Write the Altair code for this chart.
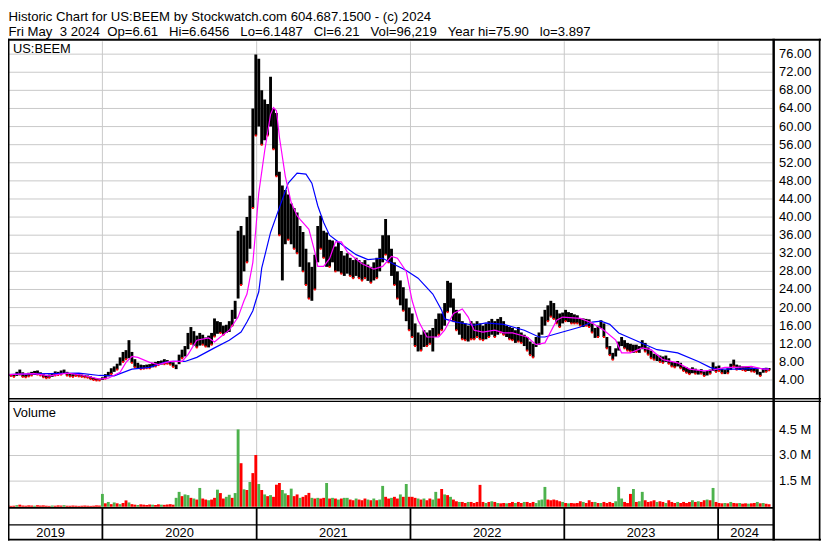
import altair as alt
import pandas as pd

# ------------------------------------------------------------------ data
first_week = "2019-05-08"   # one bar per week from here on

week_low = [
    4.9, 4.9, 4.8, 4.9, 4.7, 4.9, 5.2, 4.7, 4.6, 4.8,
    5.0, 5.1, 5.2, 5.0, 4.6, 4.4, 4.5, 4.7, 5.0, 5.1,
    5.2, 5.4, 5.0, 4.8, 4.7, 4.9, 4.8, 4.7, 4.6, 4.5,
    4.2, 4.0, 3.9, 3.9, 4.0, 4.3, 4.8, 5.3, 5.8, 6.3,
    7.2, 8.0, 8.6, 8.8, 7.8, 6.8, 6.5, 6.4, 6.5, 6.6,
    6.6, 6.8, 7.0, 7.3, 7.4, 7.5, 7.6, 7.4, 6.9, 6.4,
    7.5, 8.8, 9.2, 10.8, 12.0, 11.6, 11.2, 11.6, 11.8, 11.4,
    11.2, 11.8, 13.6, 14.2, 14.4, 14.0, 14.4, 14.6, 16.0, 17.5,
    22.0, 25.0, 28.0, 30.0, 33.0, 42.0, 58.0, 60.0, 56.0, 57.0,
    58.0, 60.0, 55.0, 49.0, 36.0, 26.0, 34.0, 35.0, 34.0, 33.0,
    32.0, 29.0, 28.0, 25.0, 22.0, 21.5, 24.0, 30.0, 33.0, 31.0,
    29.0, 29.0, 30.0, 28.0, 28.0, 27.5, 27.0, 27.5, 27.0, 26.5,
    27.0, 26.5, 26.0, 26.5, 25.9, 25.5, 26.0, 26.5, 28.0, 30.0,
    31.7, 30.0, 27.0, 25.0, 22.0, 20.5, 19.3, 17.0, 15.0, 13.5,
    11.5, 10.3, 10.5, 11.3, 11.5, 12.0, 10.3, 13.5, 14.0, 15.0,
    16.0, 19.0, 20.0, 17.0, 15.0, 14.0, 13.0, 12.8, 12.5, 13.0,
    13.0, 13.5, 13.0, 12.8, 13.0, 13.5, 14.0, 13.5, 14.0, 14.5,
    14.0, 13.5, 13.0, 12.8, 12.2, 12.5, 12.2, 11.5, 10.5, 9.5,
    9.0, 11.3, 11.8, 14.0, 16.0, 17.0, 18.0, 17.5, 16.5, 15.7,
    16.5, 17.0, 16.8, 16.5, 16.5, 16.5, 16.0, 15.7, 16.0, 15.7,
    14.5, 13.3, 13.5, 15.5, 13.5, 11.0, 9.5, 8.5, 9.2, 10.5,
    11.5, 11.0, 10.5, 10.3, 10.0, 10.2, 10.0, 10.8, 10.3, 9.6,
    8.8, 8.5, 8.2, 8.0, 7.8, 8.0, 7.6, 7.0, 6.8, 7.0,
    6.6, 6.0, 5.6, 5.3, 5.5, 5.4, 5.2, 5.4, 4.9, 5.0,
    5.4, 6.0, 5.8, 6.0, 5.5, 5.3, 5.5, 6.2, 7.0, 6.3,
    6.2, 6.2, 6.0, 6.0, 5.9, 5.8, 5.2, 4.9, 5.6, 5.8,
    6.15,
]
week_high = [
    5.4, 5.4, 5.3, 5.3, 5.2, 5.8, 6.3, 5.7, 5.2, 5.6,
    5.8, 6.0, 6.1, 5.7, 5.3, 5.0, 5.2, 5.5, 5.9, 5.8,
    6.1, 6.3, 5.8, 5.4, 5.3, 5.5, 5.3, 5.2, 5.1, 5.0,
    4.8, 4.5, 4.4, 4.3, 4.6, 5.3, 5.8, 6.6, 7.0, 7.6,
    9.0, 10.2, 10.6, 12.8, 10.2, 8.6, 7.8, 7.4, 7.3, 7.4,
    7.5, 7.8, 8.0, 8.2, 8.3, 8.6, 8.4, 8.2, 7.9, 7.4,
    9.6, 10.7, 11.5, 14.4, 15.7, 14.8, 13.8, 14.4, 14.0, 13.4,
    13.8, 14.4, 17.6, 17.0, 16.8, 16.0, 16.2, 17.0, 19.5, 21.5,
    37.0, 38.0, 36.0, 40.0, 44.7, 64.0, 75.9, 75.0, 68.0, 66.0,
    65.0, 71.0, 64.0, 63.0, 50.0, 47.0, 46.0, 45.0, 43.0, 42.0,
    41.0, 38.0, 36.7, 33.0, 30.0, 29.0, 31.7, 38.0, 40.3, 37.0,
    36.6, 35.0, 34.8, 33.5, 34.5, 32.5, 31.5, 32.0, 31.0, 30.5,
    31.0, 30.5, 30.0, 30.5, 29.5, 29.0, 30.0, 31.0, 33.0, 36.0,
    39.6, 36.0, 33.0, 30.0, 28.0, 26.0, 24.5, 22.0, 20.0, 18.7,
    16.5, 14.5, 14.0, 15.0, 14.5, 15.0, 15.5, 17.5, 18.7, 18.7,
    21.0, 25.9, 25.5, 22.0, 19.5, 18.7, 17.0, 16.5, 16.0, 17.0,
    16.5, 17.0, 16.5, 16.0, 16.5, 17.0, 17.5, 17.0, 17.5, 17.9,
    17.0, 16.0, 15.7, 15.5, 15.0, 15.7, 14.5, 14.0, 13.5, 12.5,
    12.0, 13.5, 14.5, 18.0, 19.5, 20.5, 21.5, 21.0, 19.5, 18.7,
    18.9, 19.5, 19.0, 18.8, 18.5, 18.3, 17.6, 17.6, 17.5, 17.4,
    16.5, 15.5, 16.0, 17.2, 16.5, 13.5, 11.5, 10.0, 11.0, 12.5,
    13.5, 12.8, 12.2, 12.0, 11.8, 11.8, 11.5, 12.8, 12.2, 11.2,
    10.5, 9.8, 9.6, 9.4, 9.2, 9.4, 8.8, 8.0, 8.0, 8.2,
    7.8, 7.0, 6.8, 6.5, 6.8, 6.5, 6.2, 6.4, 5.9, 6.0,
    6.3, 7.9, 7.0, 7.2, 6.5, 6.2, 6.6, 7.6, 8.5, 7.4,
    7.2, 7.0, 7.0, 6.9, 6.8, 6.7, 6.4, 5.8, 6.6, 6.7,
    6.65,
]
volume_millions = [
    0.08, 0.06, 0.07, 0.05, 0.06, 0.09, 0.12, 0.07, 0.06, 0.08,
    0.07, 0.06, 0.09, 0.07, 0.08, 0.06, 0.05, 0.07, 0.06, 0.08,
    0.07, 0.09, 0.06, 0.05, 0.07, 0.06, 0.05, 0.06, 0.07, 0.06,
    0.05, 0.06, 0.08, 0.07, 0.75, 0.20, 0.28, 0.15, 0.25, 0.20,
    0.15, 0.22, 0.37, 0.25, 0.15, 0.12, 0.10, 0.14, 0.12, 0.10,
    0.13, 0.12, 0.10, 0.14, 0.12, 0.11, 0.13, 0.15, 0.12, 0.52,
    0.87, 0.62, 0.72, 0.68, 0.52, 0.48, 0.42, 1.10, 0.48, 0.42,
    0.38, 0.42, 0.52, 1.00, 0.80, 0.48, 0.58, 0.70, 0.52, 0.80,
    4.53, 2.55, 1.02, 0.98, 1.45, 1.97, 3.03, 1.33, 0.98, 0.72,
    0.62, 0.68, 0.58, 1.29, 1.39, 0.98, 0.78, 0.68, 1.06, 0.62,
    0.72, 0.52, 0.58, 0.68, 0.81, 0.52, 0.48, 0.52, 0.48, 0.52,
    1.39, 0.48, 0.52, 0.48, 0.42, 0.48, 0.52, 0.52, 0.42, 0.38,
    0.48, 0.42, 0.38, 0.48, 0.42, 0.38, 0.48, 0.38, 0.42, 1.22,
    0.58, 0.48, 0.52, 0.58, 0.48, 0.72, 0.58, 1.33, 0.58, 0.58,
    0.52, 0.48, 0.42, 0.48, 0.38, 0.48, 0.42, 0.87, 0.48, 1.04,
    0.72, 0.68, 0.58, 0.42, 0.32, 0.28, 0.28, 0.22, 0.28, 0.28,
    0.22, 0.28, 1.28, 0.28, 0.22, 0.28, 0.32, 0.28, 0.22, 0.20,
    0.22, 0.20, 0.22, 0.28, 0.22, 0.28, 0.22, 0.28, 0.28, 0.22,
    0.28, 0.22, 0.38, 0.42, 1.16, 0.42, 0.38, 0.42, 0.38, 0.32,
    0.28, 0.22, 0.20, 0.22, 0.20, 0.22, 0.32, 0.28, 0.22, 0.38,
    0.28, 0.28, 0.22, 0.22, 0.28, 0.22, 0.28, 0.22, 0.32, 1.16,
    0.48, 0.28, 0.22, 0.75, 1.04, 0.28, 0.32, 0.87, 0.38, 0.28,
    0.32, 0.38, 0.28, 0.32, 0.28, 0.22, 0.38, 0.28, 0.22, 0.28,
    0.22, 0.28, 0.22, 0.28, 0.38, 0.28, 0.32, 0.28, 0.38, 0.42,
    0.38, 1.10, 0.28, 0.22, 0.20, 0.22, 0.20, 0.28, 0.22, 0.20,
    0.22, 0.18, 0.20, 0.18, 0.20, 0.22, 0.28, 0.20, 0.22, 0.18,
    0.15,
]
# G = up week (green volume), R = down week (red volume, red close mark)
week_direction = (
    "RRRRRGRRRR" "RGRRRRRGRR" "RGRRRRRRRR" "RRRR" "GRGRGR"
    "GRRGRRGRRR" "RGRRGRRRRG" "GRGGRGRGRR" "GRRGRRGGRG" "GRGRGRRGRG"
    "RGRRRGGRGR" "RGRRRGRGRR" "GRGRGRGGRR" "GRRRGRGRGG" "RRGRRGRGRR"
    "RGRGRRGGRR" "GRGRRGRRGR" "RRRRGRGRGR" "RGRRGRRGRR" "RGGGGRRRRR"
    "GRGRRRRGRR" "RGRGRRRRGG" "GRRRGRGGRR" "RRGRRGRRRG" "RRRRGRGRRG"
    "RGRRRGRGRR" "GRRGRRGRGR" "R"
)

fast_ma_week = [0, 6, 11, 16, 22, 27, 33, 36, 40, 42, 44, 46, 50, 53, 57, 61, 63, 66, 70, 72,
                74, 77, 80, 82, 83, 85, 86, 87, 89, 91, 92, 93, 94, 96, 98, 100, 101, 104, 106, 107,
                109, 111, 113, 115, 117, 122, 126, 129, 132, 134, 137, 139, 141, 144, 148, 150, 153,
                156, 158, 160, 163, 167, 170, 173, 178, 181, 184, 188, 190, 196, 200, 204, 208, 210,
                213, 217, 220, 224, 229, 233, 238, 241, 245, 249, 254, 258, 260]
fast_ma_value = [5.1, 5.3, 5.4, 4.9, 5.5, 5.1, 4.2, 4.4, 5.7, 7.9, 9.2, 9.0, 7.9, 7.4, 8.1, 8.1, 9.6,
                 12.8, 13.3, 12.4, 13.5, 15.0, 17.9, 21.5, 23.0, 30.0, 37.3, 45.3, 54.6, 62.7, 64.2,
                 63.5, 57.7, 49.0, 43.2, 40.3, 39.5, 37.3, 32.3, 29.1, 29.1, 30.8, 34.5, 34.5, 32.3,
                 29.7, 28.5, 29.1, 31.3, 30.9, 28.0, 21.5, 17.2, 13.5, 13.5, 15.0, 18.7, 19.7, 17.9,
                 15.0, 14.6, 15.0, 14.4, 14.4, 13.5, 11.8, 12.2, 17.2, 17.9, 17.6, 16.6, 15.0, 12.8,
                 10.0, 10.0, 11.1, 10.7, 8.5, 7.8, 6.4, 6.0, 6.2, 6.8, 6.8, 7.0, 6.4, 6.4]
slow_ma_week = [0, 6, 16, 26, 33, 38, 44, 50, 55, 58, 62, 66, 72, 77, 81, 83, 85, 86, 87, 88, 91,
                95, 97, 100, 103, 105, 107, 109, 111, 114, 120, 124, 129, 133, 137, 141, 146, 149,
                150, 154, 160, 164, 170, 177, 182, 184, 190, 196, 200, 203, 206, 209, 216, 222, 229,
                236, 240, 242, 250, 256, 260]
slow_ma_value = [5.1, 5.3, 5.4, 5.5, 5.0, 4.9, 6.4, 6.8, 7.9, 8.1, 8.1, 9.0, 11.1, 12.8, 14.6, 16.8,
                 19.3, 21.5, 23.5, 28.7, 36.6, 43.9, 47.5, 49.7, 49.5, 47.5, 42.5, 38.8, 36.0, 34.5,
                 31.7, 30.6, 30.9, 29.5, 28.2, 26.5, 23.0, 19.4, 17.5, 16.8, 16.1, 16.6, 16.3, 15.0,
                 13.5, 13.5, 14.6, 15.7, 16.8, 17.0, 16.3, 14.4, 12.4, 10.7, 10.0, 8.1, 6.8, 6.4,
                 6.4, 6.6, 6.4]

price_ticks = [4, 8, 12, 16, 20, 24, 28, 32, 36, 40, 44, 48, 52, 56, 60, 64, 68, 72, 76]
volume_ticks_millions = [1.5, 3.0, 4.5]
year_start_dates = ["2020-01-01", "2021-01-01", "2022-01-01", "2023-01-01", "2024-01-01"]
year_names = ["2019", "2020", "2021", "2022", "2023", "2024"]
year_label_dates = ["2019-08-31", "2020-07-02", "2021-07-02", "2022-07-02", "2023-07-02", "2024-03-04"]

header_line1 = "Historic Chart for US:BEEM by Stockwatch.com 604.687.1500 - (c) 2024"
header_line2 = ("Fri May  3 2024  Op=6.61   Hi=6.6456   Lo=6.1487   Cl=6.21   "
                "Vol=96,219   Year hi=75.90   lo=3.897")
symbol_label = "US:BEEM"
volume_label = "Volume"

# ------------------------------------------------------------------ build
n = len(week_low)
assert len(week_high) == n and len(volume_millions) == n and len(week_direction) == n
assert len(fast_ma_week) == len(fast_ma_value) and len(slow_ma_week) == len(slow_ma_value)

start = pd.Timestamp(first_week)
bars = pd.DataFrame({
    "date": pd.date_range(start, periods=n, freq="7D"),
    "lo": week_low,
    "hi": week_high,
    "vol": [v * 1e6 for v in volume_millions],
    "dir": list(week_direction),
})
fast = pd.DataFrame({"date": [start + pd.Timedelta(days=7 * w) for w in fast_ma_week], "val": fast_ma_value})
slow = pd.DataFrame({"date": [start + pd.Timedelta(days=7 * w) for w in slow_ma_week], "val": slow_ma_value})
years = pd.DataFrame({"date": pd.to_datetime(year_start_dates)})
year_labels = pd.DataFrame({"date": pd.to_datetime(year_label_dates), "name": year_names})
pticks = pd.DataFrame({"tick": price_ticks, "label": [f"{t:.2f}" for t in price_ticks]})
vticks = pd.DataFrame({"tick": [t * 1e6 for t in volume_ticks_millions],
                       "label": [f"{t:.1f} M" for t in volume_ticks_millions]})

W, H = 772, 535
FONT = "Liberation Sans"
GRID = "#c8c8c8"
GREEN = "#4db24d"
RED = "#ff0000"
TOP = 31          # top of the price panel (chart pixels)

XS = alt.Scale(domain=[alt.DateTime(year=2019, month=5, date=22),
                       alt.DateTime(year=2024, month=5, date=9)],
               range=[0, W], padding=0, nice=False)
PS = alt.Scale(domain=[0, 78.84], range=[391.3, TOP], nice=False, zero=False, padding=0)
VS = alt.Scale(domain=[0, 6.12e6], range=[501, 395.5], nice=False, zero=False, padding=0)


def X(field):
    return alt.X(field, type="temporal", scale=XS, axis=None)


one = pd.DataFrame({"t": [0]})


def hline(y, x1, x2, w):
    return alt.Chart(one).mark_rule(color="black", strokeWidth=w).encode(
        y=alt.value(y), x=alt.value(x1), x2=alt.value(x2))


def vline(x, y1, y2, w):
    return alt.Chart(one).mark_rule(color="black", strokeWidth=w).encode(
        x=alt.value(x), y=alt.value(y1), y2=alt.value(y2))


def keep_spaces(text):
    return text.replace("   ", " \u00a0\u00a0").replace("  ", " \u00a0")


def label(text, x, y, size, baseline="alphabetic"):
    return alt.Chart(pd.DataFrame({"t": [keep_spaces(text)]})).mark_text(
        align="left", baseline=baseline, font=FONT, fontSize=size, color="black"
    ).encode(x=alt.value(x), y=alt.value(y), text="t:N")


# price panel
price_grid = alt.Chart(pticks).mark_rule(color=GRID, strokeWidth=1).encode(
    y=alt.Y("tick:Q", scale=PS, axis=None), x=alt.value(0), x2=alt.value(W))
price_vgrid = alt.Chart(years).mark_rule(color=GRID, strokeWidth=1).encode(
    x=X("date"), y=alt.value(TOP), y2=alt.value(391.5))
price_bars = alt.Chart(bars).mark_rule(color="black", strokeWidth=2.9, clip=True).encode(
    x=X("date"), y=alt.Y("lo:Q", scale=PS, axis=None), y2="hi:Q")
close_marks = alt.Chart(bars).transform_filter("datum.dir == 'R'").mark_square(
    color=RED, size=4, opacity=1, clip=True).encode(
    x=X("date"), y=alt.Y("lo:Q", scale=PS, axis=None))
slow_line = alt.Chart(slow).mark_line(color="#0000ff", strokeWidth=1.2, clip=True).encode(
    x=X("date"), y=alt.Y("val:Q", scale=PS, axis=None))
fast_line = alt.Chart(fast).mark_line(color="#ff00ff", strokeWidth=1.2, clip=True).encode(
    x=X("date"), y=alt.Y("val:Q", scale=PS, axis=None))
price_labels = alt.Chart(pticks).mark_text(
    align="left", baseline="middle", font=FONT, fontSize=13, color="black").encode(
    y=alt.Y("tick:Q", scale=PS, axis=None), x=alt.value(778.7), text="label:N")
price_layer = alt.layer(price_grid, price_vgrid, price_bars, close_marks,
                        slow_line, fast_line, price_labels)

# volume panel
vol_grid = alt.Chart(vticks).mark_rule(color=GRID, strokeWidth=1).encode(
    y=alt.Y("tick:Q", scale=VS, axis=None), x=alt.value(0), x2=alt.value(W))
vol_vgrid = alt.Chart(years).mark_rule(color=GRID, strokeWidth=1).encode(
    x=X("date"), y=alt.value(395.5), y2=alt.value(501.5))
vol_bars = alt.Chart(bars).mark_bar(size=2.9, clip=True).encode(
    x=X("date"), y=alt.Y("vol:Q", scale=VS, axis=None), y2=alt.datum(0),
    color=alt.Color("dir:N", scale=alt.Scale(domain=["G", "R"], range=[GREEN, RED]), legend=None))
vol_labels = alt.Chart(vticks).mark_text(
    align="left", baseline="middle", font=FONT, fontSize=13, color="black").encode(
    y=alt.Y("tick:Q", scale=VS, axis=None), x=alt.value(778.7), text="label:N")
vol_layer = alt.layer(vol_grid, vol_vgrid, vol_bars, vol_labels)

# year row
year_lines = alt.Chart(years).mark_rule(color="black", strokeWidth=1.8).encode(
    x=X("date"), y=alt.value(502), y2=alt.value(534))
year_text = alt.Chart(year_labels).mark_text(
    align="center", baseline="middle", font=FONT, fontSize=13, color="black").encode(
    x=X("date"), y=alt.value(527.5), text="name:N")

frame = [
    hline(TOP - 1.5, 0, 821, 2),   # top border
    hline(392, 0, 821, 1.4),       # price / volume separator
    hline(394.6, 0, 821, 1.2),
    hline(502.2, 0, 773, 1.6),     # volume bottom
    hline(519.3, 0, 773, 1.4),     # year row line
    hline(534.2, 0, 821, 1.6),     # bottom border
    vline(0.75, TOP - 2.5, 535, 1.5),     # left border
    vline(773.2, TOP - 2.5, 535, 2.5),    # plot right border
    vline(819.6, TOP - 2.5, 535, 1.7),    # outer right border
]
texts = [
    label(header_line1, 0.5, 11, 13.3),
    label(header_line2, 0.5, 25.3, 13.3),
    label(symbol_label, 5, 42.5, 13),
    label(volume_label, 5, 410, 13),
]

chart = alt.layer(
    price_layer, vol_layer, year_lines, year_text, *frame, *texts
).resolve_scale(y="independent").properties(
    width=W, height=H, autosize="none",
    padding={"left": 0, "top": 0, "right": 50, "bottom": 0},
).configure_view(stroke=None)

chart.save("out.html", embed_options={"renderer": "svg", "actions": False})
